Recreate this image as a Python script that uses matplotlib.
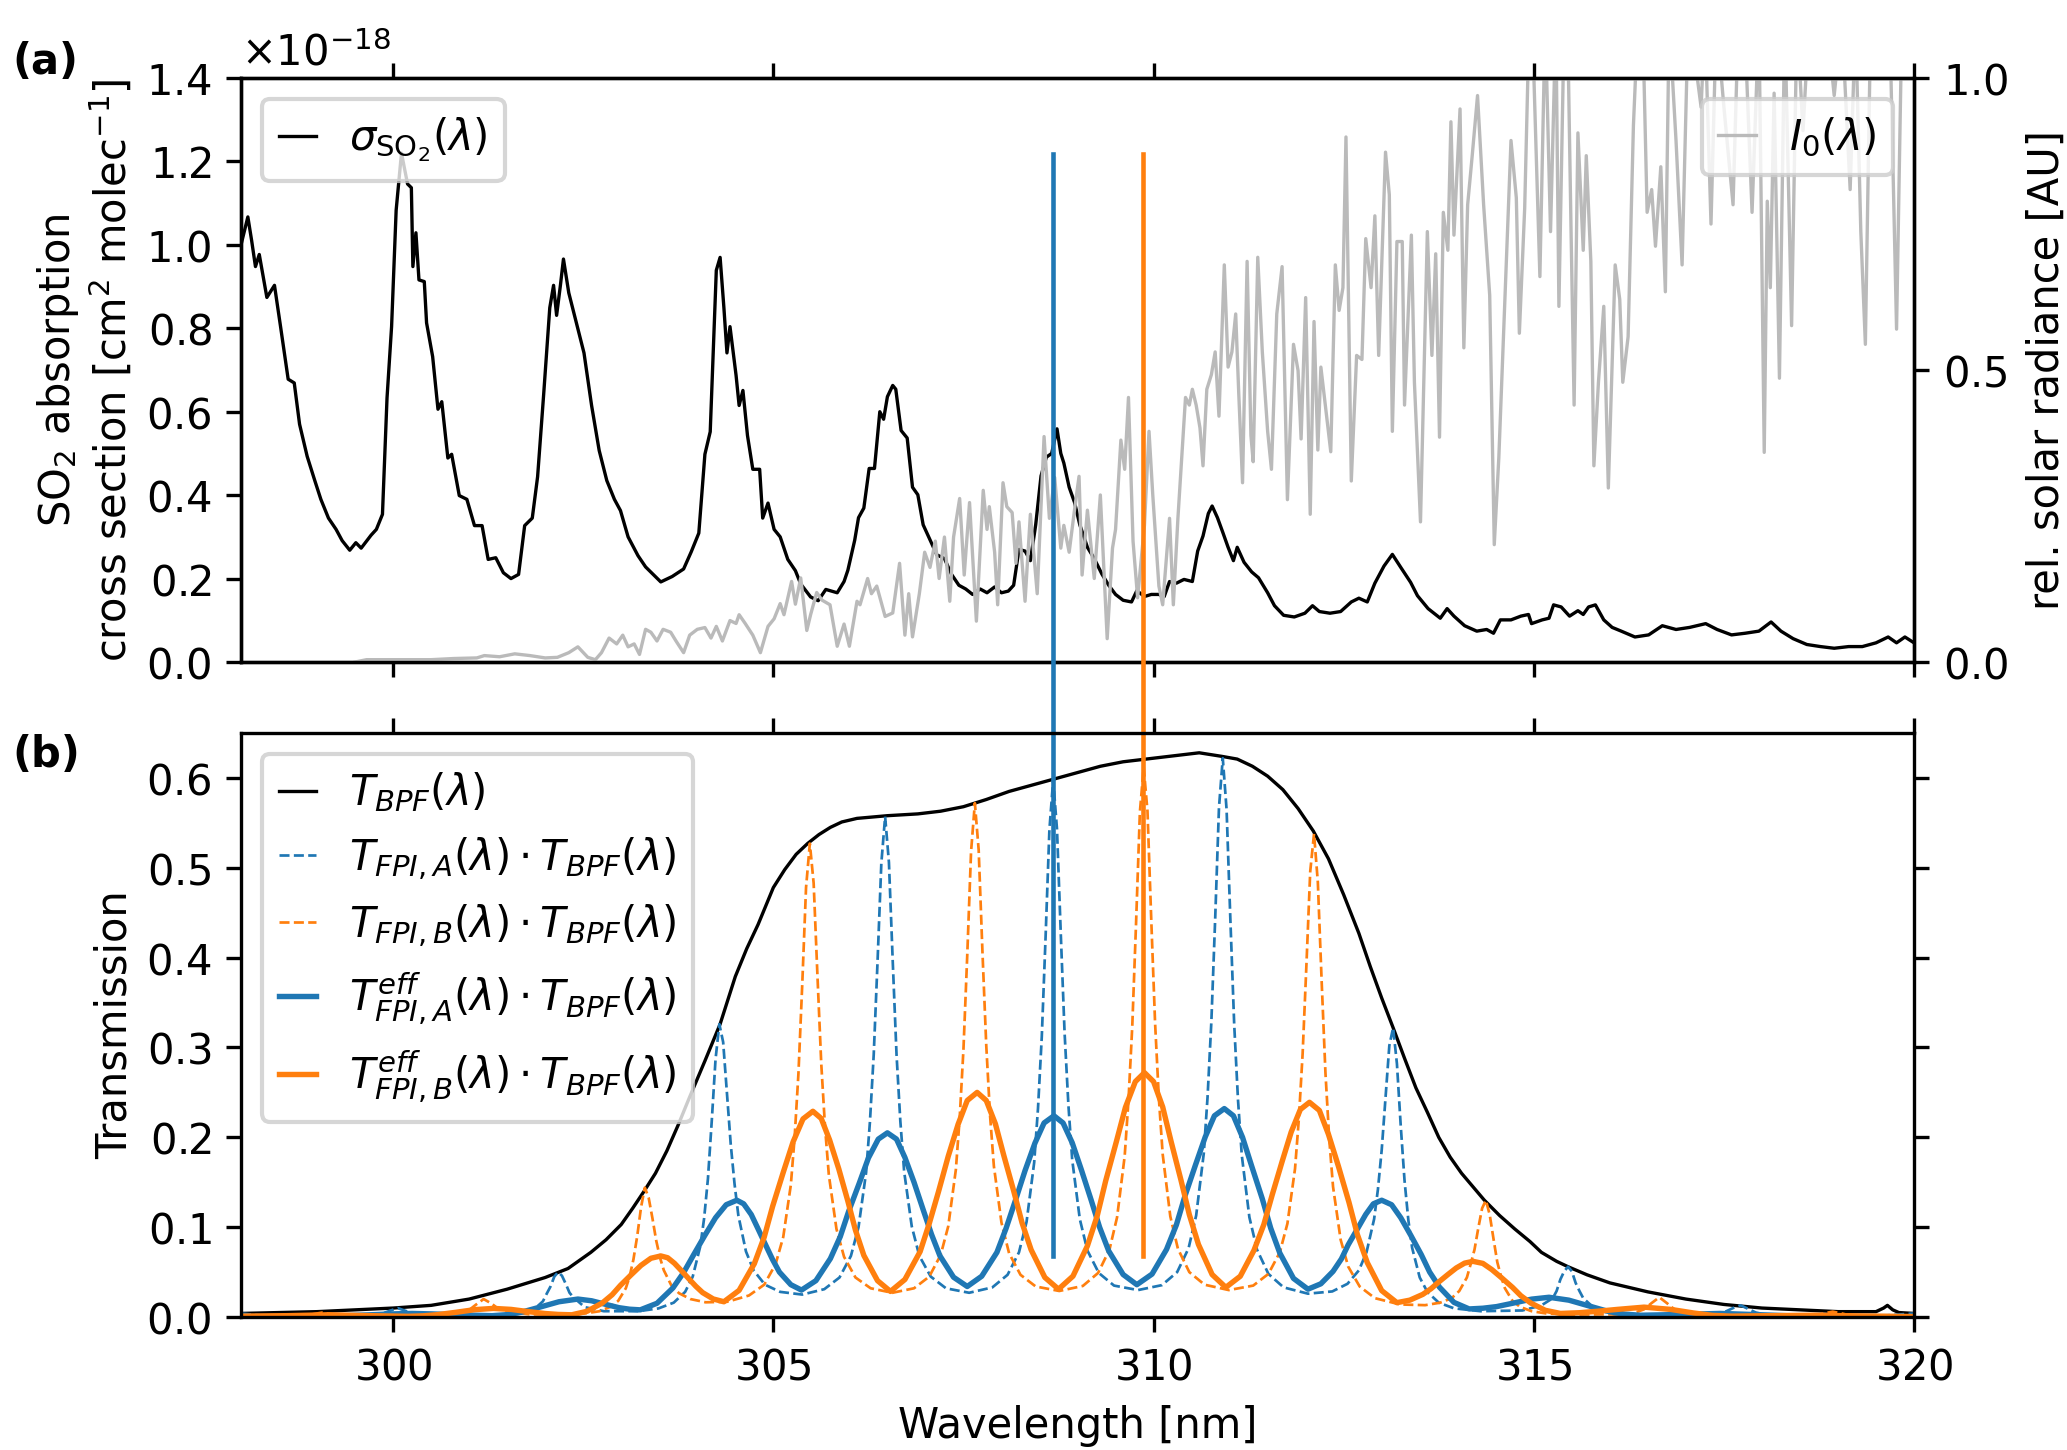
import numpy as np
import matplotlib.pyplot as plt

plt.rcParams['axes.formatter.use_mathtext'] = True

# --- panel (a): SO2 cross section [1e-18 cm2/molec] ---
wl_so2 = [298.0, 298.09, 298.14, 298.19, 298.24, 298.34, 298.44, 298.52, 298.62, 298.70,
          298.77, 298.87, 298.97, 299.05, 299.15, 299.25, 299.33, 299.43, 299.51, 299.58,
          299.71, 299.78, 299.86, 299.92, 299.98, 300.04, 300.11, 300.19, 300.24, 300.26,
          300.30, 300.34, 300.41, 300.44, 300.52, 300.59, 300.64, 300.72, 300.77, 300.87,
          300.97, 301.07, 301.17, 301.25, 301.35, 301.45, 301.55, 301.65, 301.73, 301.83,
          301.90, 301.98, 302.06, 302.11, 302.15, 302.20, 302.24, 302.31, 302.41, 302.51,
          302.61, 302.71, 302.81, 302.91, 302.99, 303.09, 303.22, 303.32, 303.42, 303.52,
          303.67, 303.82, 303.92, 304.02, 304.10, 304.17, 304.25, 304.30, 304.35, 304.39,
          304.43, 304.48, 304.51, 304.55, 304.60, 304.66, 304.73, 304.82, 304.86, 304.93,
          305.01, 305.09, 305.19, 305.29, 305.36, 305.49, 305.59, 305.69, 305.84, 305.93,
          305.98, 306.07, 306.12, 306.19, 306.26, 306.33, 306.40, 306.45, 306.50, 306.57,
          306.61, 306.68, 306.76, 306.83, 306.90, 306.97, 307.06, 307.15, 307.25, 307.34,
          307.44, 307.53, 307.62, 307.72, 307.81, 307.91, 308.00, 308.09, 308.16, 308.23,
          308.31, 308.38, 308.45, 308.52, 308.59, 308.66, 308.73, 308.78, 308.82, 308.89,
          308.96, 309.03, 309.13, 309.22, 309.32, 309.41, 309.50, 309.60, 309.71, 309.78,
          309.88, 309.97, 310.07, 310.14, 310.21, 310.30, 310.40, 310.51, 310.58, 310.65,
          310.72, 310.77, 310.84, 310.91, 310.98, 311.05, 311.10, 311.19, 311.29, 311.38,
          311.50, 311.59, 311.71, 311.85, 311.99, 312.09, 312.18, 312.32, 312.46, 312.60,
          312.70, 312.81, 312.91, 313.03, 313.14, 313.25, 313.38, 313.47, 313.61, 313.77,
          313.86, 313.95, 314.09, 314.25, 314.38, 314.47, 314.56, 314.70, 314.83, 314.93,
          314.97, 315.11, 315.20, 315.26, 315.36, 315.47, 315.58, 315.65, 315.72, 315.81,
          315.92, 316.03, 316.15, 316.33, 316.51, 316.69, 316.87, 317.05, 317.26, 317.41,
          317.60, 317.78, 317.96, 318.12, 318.25, 318.41, 318.59, 318.77, 318.95, 319.14,
          319.32, 319.50, 319.66, 319.77, 319.88, 320.0]
sigma_so2 = [1.00, 1.067, 1.01, 0.948, 0.977, 0.874, 0.903, 0.804, 0.678, 0.669,
             0.57, 0.493, 0.435, 0.39, 0.345, 0.318, 0.291, 0.268, 0.286, 0.273,
             0.304, 0.318, 0.354, 0.633, 0.804, 1.083, 1.22, 1.146, 1.137, 0.948,
             1.029, 0.916, 0.912, 0.813, 0.732, 0.606, 0.624, 0.489, 0.498, 0.399,
             0.39, 0.327, 0.327, 0.246, 0.25, 0.214, 0.20, 0.21, 0.327, 0.345,
             0.444, 0.642, 0.849, 0.903, 0.831, 0.903, 0.966, 0.885, 0.813, 0.741,
             0.615, 0.507, 0.435, 0.39, 0.363, 0.30, 0.255, 0.228, 0.21, 0.192,
             0.205, 0.223, 0.264, 0.309, 0.498, 0.552, 0.939, 0.97, 0.849, 0.741,
             0.804, 0.732, 0.687, 0.615, 0.651, 0.543, 0.462, 0.462, 0.345, 0.381,
             0.318, 0.30, 0.246, 0.219, 0.187, 0.156, 0.147, 0.174, 0.166, 0.193,
             0.22, 0.292, 0.346, 0.369, 0.464, 0.464, 0.60, 0.582, 0.636, 0.663,
             0.654, 0.555, 0.537, 0.419, 0.401, 0.329, 0.293, 0.257, 0.248, 0.211,
             0.184, 0.175, 0.162, 0.175, 0.166, 0.18, 0.166, 0.17, 0.184, 0.27,
             0.266, 0.243, 0.329, 0.446, 0.491, 0.50, 0.559, 0.50, 0.477, 0.419,
             0.383, 0.329, 0.275, 0.248, 0.211, 0.184, 0.162, 0.148, 0.144, 0.171,
             0.157, 0.162, 0.162, 0.157, 0.193, 0.189, 0.198, 0.193, 0.266, 0.302,
             0.356, 0.374, 0.346, 0.311, 0.275, 0.243, 0.275, 0.239, 0.216, 0.202,
             0.166, 0.135, 0.112, 0.108, 0.117, 0.135, 0.121, 0.117, 0.121, 0.144,
             0.153, 0.144, 0.189, 0.23, 0.258, 0.227, 0.191, 0.159, 0.128, 0.105,
             0.128, 0.11, 0.087, 0.074, 0.078, 0.069, 0.101, 0.101, 0.11, 0.114,
             0.092, 0.101, 0.105, 0.137, 0.132, 0.11, 0.123, 0.114, 0.132, 0.137,
             0.101, 0.083, 0.074, 0.06, 0.065, 0.087, 0.078, 0.083, 0.092, 0.078,
             0.065, 0.069, 0.074, 0.096, 0.074, 0.056, 0.042, 0.037, 0.033, 0.037,
             0.037, 0.046, 0.06, 0.046, 0.06, 0.046]

# solar spectrum, relative
wl_sun = [299.5, 299.65, 300.0, 300.5, 300.8, 301.1, 301.2, 301.4, 301.6, 301.8,
          302.0, 302.16, 302.31, 302.43, 302.56, 302.66, 302.74, 302.84, 302.94, 303.02,
          303.09, 303.17, 303.24, 303.32, 303.39, 303.47, 303.55, 303.65, 303.72, 303.82,
          303.90, 304.00, 304.10, 304.18, 304.25, 304.33, 304.43, 304.51, 304.55, 304.63,
          304.73, 304.83, 304.93, 305.01, 305.09, 305.14, 305.24, 305.29, 305.36, 305.44,
          305.49, 305.57, 305.64, 305.745, 305.84, 305.93, 306.00, 306.10, 306.14, 306.24,
          306.29, 306.36, 306.47, 306.57, 306.66, 306.73, 306.78, 306.83, 306.92, 306.99,
          307.06, 307.13, 307.18, 307.25, 307.32, 307.37, 307.45, 307.51, 307.58, 307.67,
          307.76, 307.81, 307.84, 307.91, 307.95, 308.02, 308.07, 308.14, 308.19, 308.23,
          308.31, 308.38, 308.47, 308.56, 308.63, 308.70, 308.78, 308.82, 308.89, 308.96,
          309.02, 309.06, 309.13, 309.22, 309.30, 309.39, 309.46, 309.50, 309.57, 309.62,
          309.67, 309.73, 309.79, 309.88, 309.94, 309.99, 310.07, 310.12, 310.21, 310.26,
          310.32, 310.37, 310.42, 310.47, 310.51, 310.56, 310.61, 310.65, 310.70, 310.76,
          310.81, 310.86, 310.93, 310.98, 311.03, 311.08, 311.12, 311.17, 311.23, 311.28,
          311.31, 311.37, 311.43, 311.50, 311.55, 311.62, 311.69, 311.76, 311.84, 311.90,
          311.94, 312.00, 312.06, 312.11, 312.16, 312.20, 312.27, 312.33, 312.39, 312.44,
          312.49, 312.53, 312.60, 312.67, 312.74, 312.79, 312.86, 312.91, 312.96, 313.05,
          313.10, 313.14, 313.20, 313.27, 313.30, 313.39, 313.43, 313.51, 313.60, 313.66,
          313.71, 313.76, 313.81, 313.87, 313.91, 313.95, 314.03, 314.08, 314.13, 314.19,
          314.26, 314.34, 314.42, 314.48, 314.54, 314.61, 314.70, 314.77, 314.81, 314.88,
          314.94, 314.99, 315.08, 315.15, 315.22, 315.29, 315.33, 315.40, 315.45, 315.49,
          315.53, 315.58, 315.65, 315.69, 315.75, 315.79, 315.85, 315.92, 315.98, 316.07,
          316.13, 316.17, 316.24, 316.31, 316.37, 316.44, 316.49, 316.55, 316.60, 316.67,
          316.73, 316.78, 316.87, 316.95, 317.03, 317.10, 317.20, 317.25, 317.33, 317.40,
          317.50, 317.62, 317.69, 317.80, 317.87, 317.96, 318.03, 318.07, 318.11, 318.16,
          318.23, 318.30, 318.39, 318.46, 318.54, 318.62, 318.75, 318.85, 318.95, 319.05,
          319.16, 319.23, 319.30, 319.36, 319.43, 319.55, 319.68, 319.77, 319.84, 320.0]
i0_sun = [0.0, 0.004, 0.004, 0.004, 0.006, 0.007, 0.011, 0.009, 0.014, 0.011,
          0.007, 0.008, 0.016, 0.026, 0.008, 0.004, 0.016, 0.041, 0.031, 0.046,
          0.026, 0.031, 0.013, 0.056, 0.051, 0.036, 0.056, 0.051, 0.036, 0.016,
          0.046, 0.056, 0.059, 0.041, 0.061, 0.036, 0.071, 0.066, 0.081, 0.066,
          0.046, 0.016, 0.061, 0.074, 0.10, 0.081, 0.138, 0.099, 0.144, 0.054,
          0.081, 0.119, 0.106, 0.098, 0.027, 0.065, 0.027, 0.104, 0.098, 0.143,
          0.117, 0.13, 0.078, 0.084, 0.169, 0.046, 0.117, 0.043, 0.117, 0.188,
          0.162, 0.207, 0.143, 0.214, 0.104, 0.214, 0.28, 0.149, 0.273, 0.07,
          0.294, 0.227, 0.266, 0.188, 0.098, 0.307, 0.266, 0.256, 0.169, 0.24,
          0.104, 0.253, 0.117, 0.386, 0.246, 0.316, 0.195, 0.234, 0.188, 0.26,
          0.318, 0.149, 0.26, 0.143, 0.286, 0.04, 0.195, 0.227, 0.38, 0.33,
          0.453, 0.207, 0.11, 0.234, 0.395, 0.285, 0.13, 0.098, 0.246, 0.098,
          0.246, 0.35, 0.453, 0.44, 0.467, 0.44, 0.401, 0.336, 0.467, 0.492,
          0.531, 0.421, 0.68, 0.505, 0.531, 0.596, 0.46, 0.307, 0.686, 0.388,
          0.343, 0.693, 0.531, 0.395, 0.33, 0.596, 0.677, 0.278, 0.544, 0.499,
          0.382, 0.624, 0.253, 0.583, 0.363, 0.505, 0.427, 0.36, 0.68, 0.602,
          0.641, 0.899, 0.31, 0.525, 0.518, 0.725, 0.641, 0.764, 0.525, 0.873,
          0.80, 0.395, 0.72, 0.72, 0.44, 0.731, 0.479, 0.24, 0.737, 0.525,
          0.699, 0.385, 0.77, 0.705, 0.925, 0.731, 0.947, 0.538, 0.783, 0.867,
          0.97, 0.783, 0.628, 0.201, 0.35, 0.589, 0.893, 0.795, 0.563, 0.777,
          1.1, 1.05, 0.66, 1.1, 0.737, 1.1, 0.609, 1.1, 1.05, 0.737,
          0.44, 0.906, 0.705, 0.867, 0.686, 0.336, 0.479, 0.609, 0.298, 0.68,
          0.621, 0.479, 0.557, 0.919, 1.1, 1.05, 0.77, 0.809, 0.712, 0.848,
          0.634, 1.1, 0.893, 0.68, 1.1, 1.05, 0.95, 1.1, 0.75, 1.1,
          0.95, 0.783, 1.1, 1.0, 0.77, 1.1, 0.359, 0.789, 0.641, 0.974,
          0.486, 1.1, 0.576, 1.1, 0.91, 1.1, 1.05, 1.1, 0.97, 1.1,
          0.809, 1.1, 0.737, 0.544, 1.1, 1.05, 1.1, 0.57, 1.1, 1.1]

# --- panel (b): transmission curves ---
wl_bpf = [298.0, 298.5, 299.0, 299.5, 300.0, 300.5, 301.0, 301.5, 302.0, 302.3,
          302.6, 302.8, 303.0, 303.15, 303.3, 303.45, 303.6, 303.75, 303.9, 304.1,
          304.3, 304.5, 304.65, 304.8, 305.0, 305.15, 305.3, 305.45, 305.6, 305.75,
          305.9, 306.1, 306.5, 306.9, 307.2, 307.5, 307.8, 308.1, 308.4, 308.7,
          309.0, 309.3, 309.6, 310.0, 310.3, 310.6, 310.9, 311.1, 311.3, 311.5,
          311.7, 311.9, 312.1, 312.3, 312.5, 312.7, 312.85, 313.0, 313.15, 313.3,
          313.45, 313.6, 313.75, 313.9, 314.05, 314.2, 314.35, 314.55, 314.75, 314.95,
          315.1, 315.3, 315.45, 315.7, 316.0, 316.5, 317.0, 317.5, 318.0, 318.5,
          319.0, 319.5, 319.6, 319.65, 319.72, 319.8, 320.0]
t_bpf = [0.004, 0.005, 0.006, 0.008, 0.010, 0.013, 0.020, 0.031, 0.044, 0.054,
         0.072, 0.086, 0.103, 0.121, 0.140, 0.160, 0.185, 0.214, 0.245, 0.285,
         0.326, 0.379, 0.410, 0.437, 0.478, 0.498, 0.515, 0.527, 0.537, 0.545,
         0.551, 0.555, 0.558, 0.560, 0.563, 0.568, 0.576, 0.585, 0.592, 0.599,
         0.606, 0.613, 0.618, 0.622, 0.625, 0.628, 0.624, 0.621, 0.613, 0.602,
         0.587, 0.566, 0.541, 0.510, 0.470, 0.427, 0.390, 0.355, 0.322, 0.288,
         0.255, 0.228, 0.200, 0.178, 0.160, 0.145, 0.130, 0.113, 0.098, 0.084,
         0.072, 0.062, 0.056, 0.047, 0.038, 0.028, 0.020, 0.014, 0.010, 0.008,
         0.006, 0.006, 0.010, 0.013, 0.008, 0.005, 0.004]

wl_fpi_a = [298.0, 298.3, 298.6, 299.0, 299.5, 299.7, 299.86, 299.96, 300.06, 300.16,
            300.26, 300.41, 300.66, 301.1, 301.57, 301.82, 301.97, 302.02, 302.07, 302.12,
            302.17, 302.22, 302.27, 302.32, 302.37, 302.52, 302.77, 303.23, 303.49, 303.69,
            303.84, 303.94, 304.04, 304.09, 304.14, 304.19, 304.24, 304.29, 304.34, 304.39,
            304.44, 304.49, 304.54, 304.64, 304.74, 304.89, 305.09, 305.38, 305.67, 305.87,
            306.02, 306.12, 306.22, 306.27, 306.32, 306.37, 306.42, 306.47, 306.52, 306.57,
            306.62, 306.67, 306.72, 306.82, 306.92, 307.07, 307.27, 307.575, 307.88, 308.08,
            308.23, 308.33, 308.43, 308.48, 308.53, 308.58, 308.63, 308.68, 308.73, 308.78,
            308.83, 308.88, 308.93, 309.03, 309.13, 309.28, 309.48, 309.795, 310.11, 310.31,
            310.46, 310.56, 310.66, 310.71, 310.76, 310.81, 310.86, 310.91, 310.96, 311.01,
            311.06, 311.11, 311.16, 311.26, 311.36, 311.51, 311.71, 312.03, 312.35, 312.55,
            312.70, 312.80, 312.90, 312.95, 313.00, 313.05, 313.10, 313.15, 313.20, 313.25,
            313.30, 313.35, 313.40, 313.50, 313.60, 313.75, 313.95, 314.3, 314.85, 315.1,
            315.25, 315.30, 315.35, 315.40, 315.45, 315.50, 315.55, 315.60, 315.65, 315.8,
            316.05, 316.6, 317.12, 317.37, 317.52, 317.62, 317.72, 317.82, 317.92, 318.07,
            318.32, 318.9, 319.5, 320.0]
t_fpi_a = [0.004, 0.0015, 0.0005, 0.0003, 0.0006, 0.0015, 0.004, 0.007, 0.010, 0.007,
           0.004, 0.0018, 0.001, 0.0007, 0.0025, 0.006, 0.0175, 0.026, 0.034, 0.045,
           0.050, 0.046, 0.037, 0.027, 0.022, 0.011, 0.0065, 0.0065, 0.0096, 0.016,
           0.028, 0.045, 0.079, 0.110, 0.154, 0.218, 0.287, 0.326, 0.306, 0.249,
           0.192, 0.148, 0.113, 0.073, 0.052, 0.036, 0.028, 0.025, 0.031, 0.044,
           0.068, 0.100, 0.161, 0.217, 0.292, 0.395, 0.505, 0.557, 0.506, 0.396,
           0.292, 0.218, 0.162, 0.101, 0.068, 0.045, 0.032, 0.027, 0.033, 0.047,
           0.072, 0.106, 0.172, 0.232, 0.312, 0.423, 0.542, 0.598, 0.543, 0.426,
           0.316, 0.236, 0.175, 0.109, 0.074, 0.049, 0.035, 0.030, 0.0355, 0.050,
           0.0765, 0.113, 0.182, 0.245, 0.329, 0.443, 0.567, 0.622, 0.565, 0.442,
           0.326, 0.242, 0.180, 0.111, 0.075, 0.048, 0.033, 0.026, 0.0285, 0.037,
           0.052, 0.072, 0.109, 0.142, 0.186, 0.244, 0.302, 0.322, 0.282, 0.213,
           0.152, 0.108, 0.077, 0.044, 0.028, 0.016, 0.0097, 0.0065, 0.0073, 0.013,
           0.021, 0.029, 0.042, 0.051, 0.056, 0.051, 0.038, 0.029, 0.021, 0.0095,
           0.003, 0.0013, 0.0015, 0.003, 0.006, 0.010, 0.013, 0.009, 0.005, 0.0023,
           0.001, 0.0003, 0.001, 0.004]

wl_fpi_b = [298.0, 298.47, 298.72, 298.87, 298.97, 299.07, 299.17, 299.27, 299.42, 299.67,
            300.13, 300.59, 300.84, 300.99, 301.09, 301.19, 301.29, 301.39, 301.54, 301.79,
            302.25, 302.51, 302.71, 302.86, 302.96, 303.06, 303.11, 303.16, 303.21, 303.26,
            303.31, 303.36, 303.41, 303.46, 303.51, 303.56, 303.66, 303.76, 303.91, 304.11,
            304.395, 304.68, 304.88, 305.03, 305.13, 305.23, 305.28, 305.33, 305.38, 305.43,
            305.48, 305.53, 305.58, 305.63, 305.68, 305.73, 305.83, 305.93, 306.08, 306.28,
            306.565, 306.85, 307.05, 307.20, 307.30, 307.40, 307.45, 307.50, 307.55, 307.60,
            307.65, 307.70, 307.75, 307.80, 307.85, 307.90, 308.00, 308.10, 308.25, 308.45,
            308.76, 309.07, 309.27, 309.42, 309.52, 309.62, 309.67, 309.72, 309.77, 309.82,
            309.87, 309.92, 309.97, 310.02, 310.07, 310.12, 310.22, 310.32, 310.47, 310.67,
            310.99, 311.31, 311.51, 311.66, 311.76, 311.86, 311.91, 311.96, 312.01, 312.06,
            312.11, 312.16, 312.21, 312.26, 312.31, 312.36, 312.46, 312.56, 312.71, 312.91,
            313.24, 313.57, 313.77, 313.92, 314.02, 314.12, 314.17, 314.22, 314.27, 314.32,
            314.37, 314.42, 314.47, 314.52, 314.57, 314.62, 314.72, 314.82, 314.97, 315.17,
            315.51, 316.05, 316.3, 316.45, 316.55, 316.65, 316.75, 316.85, 317.0, 317.25,
            317.79, 318.33, 318.58, 318.73, 318.83, 318.93, 319.03, 319.13, 319.28, 319.53,
            320.0]
t_fpi_b = [0.0003, 0.0004, 0.001, 0.002, 0.0035, 0.005, 0.0035, 0.002, 0.001, 0.0005,
           0.0005, 0.0016, 0.0028, 0.0072, 0.0138, 0.020, 0.0152, 0.0088, 0.0057, 0.0030,
           0.0025, 0.0039, 0.0064, 0.0115, 0.018, 0.032, 0.045, 0.064, 0.090, 0.122,
           0.144, 0.133, 0.110, 0.085, 0.066, 0.052, 0.035, 0.0265, 0.020, 0.0164,
           0.017, 0.024, 0.036, 0.059, 0.089, 0.147, 0.200, 0.271, 0.370, 0.478,
           0.527, 0.483, 0.380, 0.282, 0.211, 0.158, 0.098, 0.067, 0.044, 0.032,
           0.027, 0.032, 0.045, 0.069, 0.101, 0.164, 0.221, 0.298, 0.403, 0.518,
           0.572, 0.520, 0.406, 0.302, 0.224, 0.168, 0.105, 0.071, 0.047, 0.034,
           0.029, 0.0346, 0.049, 0.075, 0.111, 0.179, 0.241, 0.324, 0.439, 0.562,
           0.612, 0.563, 0.441, 0.327, 0.243, 0.181, 0.112, 0.076, 0.050, 0.036,
           0.030, 0.035, 0.048, 0.072, 0.104, 0.165, 0.220, 0.293, 0.392, 0.496,
           0.538, 0.484, 0.374, 0.272, 0.198, 0.145, 0.086, 0.056, 0.034, 0.021,
           0.014, 0.0132, 0.016, 0.021, 0.029, 0.044, 0.059, 0.075, 0.099, 0.121,
           0.130, 0.114, 0.087, 0.061, 0.045, 0.032, 0.018, 0.0113, 0.0065, 0.0039,
           0.0027, 0.003, 0.004, 0.0086, 0.0156, 0.022, 0.0155, 0.0085, 0.0038, 0.0016,
           0.0007, 0.0006, 0.0013, 0.0024, 0.0043, 0.006, 0.0043, 0.0024, 0.0012, 0.0008,
           0.0002]

wl_eff_a = [298.0, 299.2, 299.7, 300.0, 300.25, 300.5, 300.8, 301.3, 301.49, 301.68,
            301.92, 302.18, 302.43, 302.61, 302.80, 302.97, 303.11, 303.25, 303.47, 303.68,
            303.82, 303.95, 304.10, 304.24, 304.38, 304.52, 304.61, 304.71, 304.80, 304.90,
            304.99, 305.08, 305.23, 305.37, 305.56, 305.75, 305.88, 305.99, 306.13, 306.25,
            306.38, 306.50, 306.62, 306.73, 306.85, 306.97, 307.08, 307.19, 307.37, 307.55,
            307.74, 307.94, 308.06, 308.18, 308.31, 308.44, 308.56, 308.69, 308.81, 308.93,
            309.05, 309.18, 309.29, 309.41, 309.60, 309.78, 309.98, 310.17, 310.30, 310.41,
            310.55, 310.68, 310.80, 310.93, 311.05, 311.17, 311.29, 311.43, 311.54, 311.66,
            311.84, 312.03, 312.20, 312.36, 312.47, 312.56, 312.68, 312.79, 312.89, 313.00,
            313.13, 313.25, 313.38, 313.52, 313.63, 313.76, 313.95, 314.15, 314.33, 314.51,
            314.73, 314.97, 315.20, 315.46, 315.74, 315.99, 316.2, 316.4, 316.9, 317.45,
            318.0, 318.6, 319.5, 320.0]
t_eff_a = [0.0006, 0.001, 0.0025, 0.0035, 0.004, 0.0035, 0.0026, 0.0015, 0.0026, 0.0052,
           0.0108, 0.0170, 0.020, 0.0181, 0.014, 0.0104, 0.0087, 0.008, 0.0153, 0.0324,
           0.0495, 0.069, 0.091, 0.1105, 0.125, 0.130, 0.126, 0.114, 0.098, 0.080,
           0.064, 0.050, 0.036, 0.030, 0.0405, 0.065, 0.0895, 0.1175, 0.149, 0.177,
           0.198, 0.205, 0.198, 0.1776, 0.150, 0.1195, 0.092, 0.0682, 0.0443, 0.034,
           0.0454, 0.072, 0.0986, 0.129, 0.163, 0.1936, 0.216, 0.224, 0.216, 0.194,
           0.164, 0.130, 0.100, 0.0736, 0.0473, 0.036, 0.0478, 0.0752, 0.1026, 0.134,
           0.169, 0.2006, 0.224, 0.232, 0.224, 0.200, 0.168, 0.1315, 0.099, 0.0712,
           0.043, 0.031, 0.037, 0.0508, 0.0647, 0.0805, 0.098, 0.1142, 0.126, 0.130,
           0.125, 0.1106, 0.0913, 0.0695, 0.0501, 0.0332, 0.0163, 0.009, 0.0098, 0.0116,
           0.0155, 0.0199, 0.022, 0.0188, 0.012, 0.006, 0.0032, 0.002, 0.0028, 0.004,
           0.0025, 0.0006, 0.0004, 0.0005]

wl_eff_b = [298.0, 298.6, 299.15, 299.7, 300.2, 300.39, 300.58, 300.82, 301.07, 301.32,
            301.55, 301.78, 302.0, 302.17, 302.35, 302.55, 302.75, 302.88, 302.99, 303.13,
            303.26, 303.39, 303.52, 303.61, 303.70, 303.79, 303.89, 303.98, 304.07, 304.21,
            304.35, 304.55, 304.75, 304.88, 304.99, 305.13, 305.26, 305.39, 305.52, 305.63,
            305.74, 305.86, 305.98, 306.08, 306.19, 306.37, 306.54, 306.73, 306.93, 307.05,
            307.17, 307.30, 307.43, 307.55, 307.68, 307.80, 307.92, 308.03, 308.16, 308.27,
            308.39, 308.57, 308.75, 308.94, 309.13, 309.26, 309.37, 309.51, 309.63, 309.76,
            309.88, 310.00, 310.12, 310.23, 310.36, 310.47, 310.59, 310.77, 310.95, 311.14,
            311.32, 311.45, 311.56, 311.69, 311.81, 311.93, 312.05, 312.18, 312.30, 312.43,
            312.57, 312.68, 312.81, 313.00, 313.2, 313.37, 313.54, 313.65, 313.75, 313.87,
            313.98, 314.09, 314.2, 314.33, 314.45, 314.58, 314.72, 314.83, 314.96, 315.15,
            315.35, 315.6, 315.85, 316.1, 316.45, 316.8, 317.1, 317.35, 317.6, 318.2,
            318.7, 319.3, 320.0]
t_eff_b = [0.001, 0.0015, 0.0025, 0.0015, 0.0008, 0.0013, 0.0026, 0.0052, 0.0082, 0.0096,
           0.0085, 0.006, 0.0039, 0.0029, 0.0025, 0.0064, 0.0156, 0.0248, 0.0353, 0.047,
           0.0575, 0.0654, 0.068, 0.066, 0.0598, 0.0517, 0.0425, 0.0343, 0.0272, 0.0201,
           0.017, 0.0297, 0.0594, 0.089, 0.123, 0.161, 0.195, 0.2205, 0.229, 0.221,
           0.197, 0.165, 0.129, 0.0967, 0.0686, 0.0405, 0.0285, 0.0418, 0.0728, 0.104,
           0.139, 0.179, 0.2146, 0.241, 0.250, 0.241, 0.215, 0.180, 0.1405, 0.105,
           0.0748, 0.0441, 0.031, 0.0455, 0.0792, 0.113, 0.1515, 0.195, 0.2334, 0.262,
           0.272, 0.262, 0.2338, 0.1955, 0.1525, 0.114, 0.0808, 0.0473, 0.033, 0.0454,
           0.0742, 0.103, 0.136, 0.173, 0.206, 0.231, 0.239, 0.230, 0.2033, 0.168,
           0.1275, 0.0918, 0.0606, 0.0294, 0.016, 0.0188, 0.0252, 0.0316, 0.039, 0.0473,
           0.0546, 0.060, 0.062, 0.0597, 0.0527, 0.0434, 0.033, 0.0237, 0.0156, 0.0075,
           0.004, 0.0048, 0.0065, 0.0085, 0.011, 0.0085, 0.0045, 0.0018, 0.001, 0.0016,
           0.002, 0.0012, 0.0005]

# selected wavelengths of the two FPI settings
wl_sel = [308.68, 309.86]
xticks = [300, 305, 310, 315, 320]
sigma_ticks = [0.0, 0.2, 0.4, 0.6, 0.8, 1.0, 1.2, 1.4]

#%%
fig = plt.figure(figsize=(2067 / 300, 1450 / 300), dpi=300)
gs = fig.add_gridspec(2, 1, left=0.1166, right=0.926, top=0.9462, bottom=0.0917,
                      hspace=0.1216)
ax = fig.add_subplot(gs[0])
axb = fig.add_subplot(gs[1])

# (a)
ax.plot(wl_so2, np.array(sigma_so2) * 1e-18, color='k', lw=0.8,
        label=r'$\sigma_{\mathrm{SO_2}}(\lambda)$')
ax.set_xlim(298, 320)
ax.set_xticks(xticks)
ax.set_yticks(np.array(sigma_ticks) * 1e-18)
ax.set_ylim(0, 1.4e-18)
ax.set_ylabel('SO$_2$ absorption\ncross section [cm$^2$ molec$^{-1}$]', labelpad=2.5)
ax.tick_params(top=True, labelbottom=False)
ax.legend(loc='upper left', handlelength=0.9)

ax2 = ax.twinx()
ax2.plot(wl_sun, i0_sun, color='0.73', lw=0.8, label=r'$I_0(\lambda)$')
ax2.set_ylim(0, 1)
ax2.set_yticks([0, 0.5, 1.0])
ax2.set_ylabel('rel. solar radiance [AU]')
ax2.legend(loc='upper right', handlelength=0.9)

# (b)
axb.set_zorder(2)
axb.plot(wl_bpf, t_bpf, color='k', lw=0.8, label=r'$T_{BPF}(\lambda)$')
axb.plot(wl_fpi_a, t_fpi_a, color='C0', lw=0.65, ls='--',
         label=r'$T_{FPI,A}(\lambda)\cdot T_{BPF}(\lambda)$')
axb.plot(wl_fpi_b, t_fpi_b, color='C1', lw=0.65, ls='--',
         label=r'$T_{FPI,B}(\lambda)\cdot T_{BPF}(\lambda)$')
axb.plot(wl_eff_a, t_eff_a, color='C0', lw=1.3,
         label=r'$T^{eff}_{FPI,A}(\lambda)\cdot T_{BPF}(\lambda)$')
axb.plot(wl_eff_b, t_eff_b, color='C1', lw=1.3,
         label=r'$T^{eff}_{FPI,B}(\lambda)\cdot T_{BPF}(\lambda)$')
for w, c in zip(wl_sel, ['C0', 'C1']):
    axb.plot([w, w], [0.068, 1.294], color=c, lw=1.1, clip_on=False)
axb.set_xlim(298, 320)
axb.set_xticks(xticks)
axb.set_ylim(0, 0.65)
axb.set_xlabel('Wavelength [nm]')
axb.set_ylabel('Transmission', labelpad=2.5)
axb.tick_params(top=True, right=True)
axb.legend(loc='upper left', handlelength=0.9)

fig.text(0.006, 1 - 62 / 1450, '(a)', fontweight='bold', va='center')
fig.text(0.006, 1 - 755 / 1450, '(b)', fontweight='bold', va='center')

plt.savefig('out.png', dpi=300)
